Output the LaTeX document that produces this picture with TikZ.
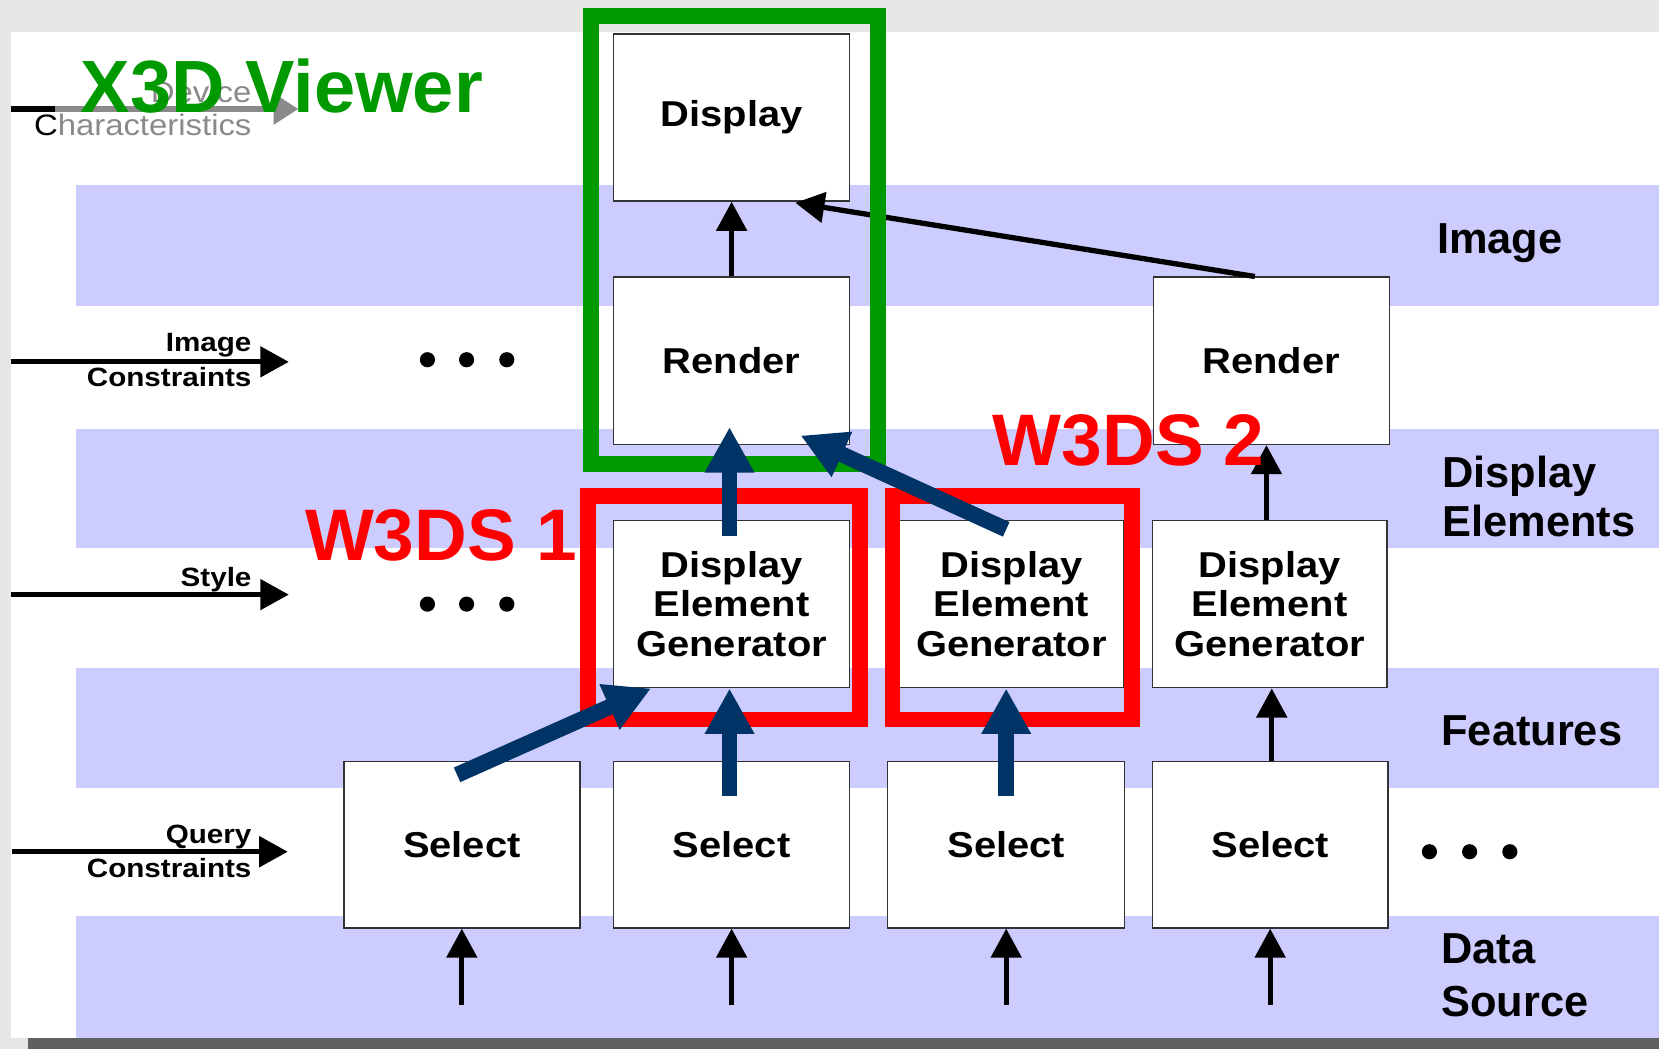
\documentclass[tikz,border=0pt]{standalone}
\usepackage{fontspec}
\setmainfont{Liberation Sans}
\newfontfamily\widefont{Liberation Sans}[FakeStretch=1.11]
\newfontfamily\wideleft{Liberation Sans}[FakeStretch=1.12]
\usetikzlibrary{arrows.meta,calc}

\definecolor{paper}{HTML}{E6E6E6}
\definecolor{bargray}{HTML}{606060}
\definecolor{bandblue}{HTML}{CCCCFF}
\definecolor{viewergreen}{HTML}{009900}
\definecolor{serverred}{HTML}{FF0000}
\definecolor{flownavy}{HTML}{003366}
\definecolor{edgegray}{HTML}{333333}
\definecolor{dither}{HTML}{8A8A8A}

\tikzset{
  procbox/.style={draw=edgegray, line width=0.8pt, fill=white, inner sep=0pt,
    minimum width=133.8pt, minimum height=94.8pt, align=center,
    font=\widefont\bfseries\fontsize{20.4pt}{22.2pt}\selectfont},
  selbox/.style={procbox, minimum height=94.2pt},
  band/.style={fill=bandblue},
  frame/.style={line width=9pt},
  flowblack/.style={line width=3pt, -{Triangle[length=16.5pt,width=17pt]}},
  flowin/.style={line width=3pt, -{Triangle[length=16.2pt,width=17pt]}},
  flownav/.style={line width=9pt, draw=flownavy, -{Triangle[length=25.8pt,width=26.4pt]}},
  leftlbl/.style={inner sep=0pt, align=right,
    font=\wideleft\bfseries\fontsize{15pt}{19.5pt}\selectfont},
  devlbl/.style={inner sep=0pt, align=right, text=dither,
    font=\widefont\fontsize{16.8pt}{19pt}\selectfont},
  bandlbl/.style={inner sep=0pt, align=left,
    font=\bfseries\fontsize{24.6pt}{27.6pt}\selectfont},
  bigtitle/.style={inner sep=0pt, anchor=base west,
    font=\bfseries\fontsize{41.4pt}{42pt}\selectfont},
  dotmark/.style={circle, fill=black, inner sep=0pt, minimum size=8.6pt}
}

\begin{document}
\begin{tikzpicture}[x=0.6pt,y=-0.6pt]
\useasboundingbox (0,0) rectangle (1568,991);

% page background, white sheet and bottom bar
\fill[paper] (0,0) rectangle (1568,991);
\fill[white] (10,30) rectangle (1568,981);
\fill[bargray] (26,981) rectangle (1568,991);

% layer bands
\fill[band] (72,175) rectangle (1568,289);
\fill[band] (72,405) rectangle (1568,518);
\fill[band] (72,631) rectangle (1568,745);
\fill[band] (72,866) rectangle (1568,981);

% device characteristics input (dithered)
\coordinate (dc0) at (10,103);
\coordinate (dc1) at (52,103);
\coordinate (dc2) at (282,103);
\draw[line width=3.3pt, draw=dither, -{Triangle[length=14pt,width=17pt]}] (dc0) -- (dc2);
\draw[line width=3.3pt] (dc0) -- (dc1);
\node[devlbl, anchor=north east] (ldc) at (238,76) {Device\\{\color{black}C}haracteristics};

% other inputs
\coordinate (ic0) at (10,342);  \coordinate (ic1) at (273,342);
\coordinate (st0) at (10,562);  \coordinate (st1) at (273,562);
\coordinate (qc0) at (11,805);  \coordinate (qc1) at (272,805);
\draw[flowin] (ic0) -- (ic1);
\draw[flowin] (st0) -- (st1);
\draw[flowin] (qc0) -- (qc1);
\node[leftlbl, anchor=north east] (lic) at (238,315) {Image\\Constraints};
\node[leftlbl, anchor=base east] (lst) at (238,554) {Style};
\node[leftlbl, anchor=north east] (lqc) at (238,779) {Query\\Constraints};

% continuation dots
\node[dotmark] (pa1) at (404,340) {};
\node[dotmark] (pa2) at (441,340) {};
\node[dotmark] (pa3) at (479,340) {};
\node[dotmark] (pb1) at (404,571) {};
\node[dotmark] (pb2) at (441,571) {};
\node[dotmark] (pb3) at (479,571) {};
\node[dotmark] (pc1) at (1351,805) {};
\node[dotmark] (pc2) at (1389,805) {};
\node[dotmark] (pc3) at (1427,805) {};

% processing stages
\node[procbox] (disp) at (691.5,111) {Display};
\node[procbox] (r1) at (691.5,341) {Render};
\node[procbox] (r2) at (1201.5,341) {Render};
\node[procbox] (g1) at (691.5,571) {Display\\Element\\Generator};
\node[procbox, minimum width=127.2pt] (g2) at (956,571) {Display\\Element\\Generator};
\node[procbox, minimum width=133.2pt] (g3) at (1200,571) {Display\\Element\\Generator};
\node[selbox] (s1) at (436.5,798.5) {Select};
\node[selbox] (s2) at (691.5,798.5) {Select};
\node[selbox, minimum width=134.4pt] (s3) at (951,798.5) {Select};
\node[selbox] (s4) at (1200.5,798.5) {Select};

% data source inputs
\coordinate (in1) at ($(s1.south)+(0,72)$);
\coordinate (in2) at ($(s2.south)+(0,72)$);
\coordinate (in3) at ($(s3.south)+(0,72)$);
\coordinate (in4) at ($(s4.south)+(0,72)$);
\draw[flowblack] (in1) -- (s1.south);
\draw[flowblack] (in2) -- (s2.south);
\draw[flowblack] (in3) -- (s3.south);
\draw[flowblack] (in4) -- (s4.south);

% black data flow
\coordinate (g3top) at ($(g3.north)+(-3,0)$);
\coordinate (s4top) at ($(s4.north)+(1.5,0)$);
\draw[flowblack] (r1.north) -- (disp.south);
\draw[flowblack] ($(r2.north)+(-15.5,0)$) -- ($(disp.south east)+(-52,1)$);
\draw[flowblack] (g3top) -- (g3top |- r2.south);
\draw[flowblack] (s4top) -- (s4top |- g3.south);

% viewer and server frames
\draw[frame, viewergreen] (558.5,15.5) rectangle (829.5,438.5);
\draw[frame, serverred] (555.5,468.5) rectangle (813,680);
\draw[frame, serverred] (843.5,468.5) rectangle (1069.5,680);

% highlighted flow
\draw[flownav] ($(g1.north)+(-2,15)$) -- ($(r1.south)+(-2,-17)$);
\draw[flownav] ($(g2.north)+(-5,9)$) -- ($(r1.south east)+(-47,-9)$);
\draw[flownav] ($(s1.north)+(-4.5,13)$) -- ($(g1.south west)+(36,0)$);
\draw[flownav] ($(s2.north)+(-2,33)$) -- ($(g1.south)+(-2,0)$);
\draw[flownav] ($(s3.north)+(0,33)$) -- ($(g2.south)+(-5,0)$);

% layer names
\node[bandlbl, anchor=base west] (bimg) at (1358,240) {Image};
\node[bandlbl, anchor=north west] (bdel) at (1363,431) {Display\\Elements};
\node[bandlbl, anchor=base west] (bfea) at (1362,705) {Features};
\node[bandlbl, anchor=north west, font=\bfseries\fontsize{24.6pt}{30pt}\selectfont] (bdat) at (1362,882.5) {Data\\Source};

% titles
\node[bigtitle, text=viewergreen, font=\bfseries\fontsize{42pt}{42pt}\selectfont] (viewer) at (76,106) {X3D Viewer};
\node[bigtitle, text=serverred] (w1) at (288,530) {W3DS 1};
\node[bigtitle, text=serverred] (w2) at (938,440) {W3DS 2};
\end{tikzpicture}
\end{document}
